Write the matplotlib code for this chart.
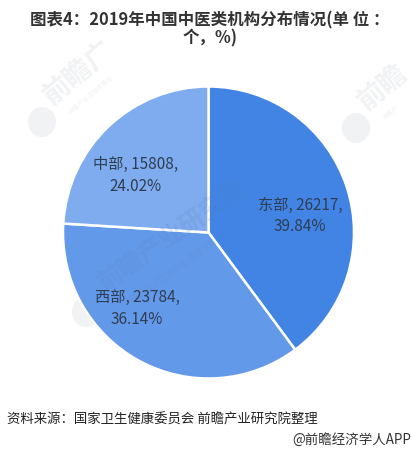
import matplotlib
matplotlib.use("Agg")
import matplotlib.pyplot as plt
from matplotlib.patches import Ellipse

plt.rcParams["font.family"] = ["Noto Sans CJK SC", "DejaVu Sans"]

regions = ["东部", "西部", "中部"]
counts = [26217, 23784, 15808]
shares = ["39.84%", "36.14%", "24.02%"]
colors = ["#4184e4", "#6399e9", "#7eacee"]

W, H = 412, 453
fig = plt.figure(figsize=(W / 100, H / 100), dpi=100)
fig.patch.set_facecolor("white")

# background layer in pixel coords, for watermark
bg = fig.add_axes([0, 0, 1, 1], zorder=0)
bg.set_xlim(0, W)
bg.set_ylim(H, 0)
bg.axis("off")

wm_color = "#f1f2f4"


def watermark(x, y, big, small, size=20):
    bg.text(x, y, big, fontsize=size, color=wm_color, rotation=40, ha="left", va="bottom",
            rotation_mode="anchor", fontweight="bold")
    bg.text(x + 16, y + 6, small, fontsize=4.5, color=wm_color, rotation=40, ha="left", va="bottom",
            rotation_mode="anchor")
    bg.add_patch(Ellipse((x - 14, y + 12), 28, 30, color=wm_color, lw=0))


watermark(56, 110, "前瞻广", "中国产业咨询领导者")
watermark(370, 116, "前瞻", "中国产")
bg.add_patch(Ellipse((86, 312), 28, 30, color=wm_color, lw=0))

# pie
ax = fig.add_axes([63 / W, 1 - 378.5 / H, 291 / W, 292 / H], zorder=1)
wedges, _ = ax.pie(counts, colors=colors, startangle=90, counterclock=False, radius=1,
                   wedgeprops={"edgecolor": "white", "linewidth": 1.8})
ax.set_xlim(-1, 1)
ax.set_ylim(-1, 1)
ax.set_aspect("auto")

# overlay for text
ov = fig.add_axes([0, 0, 1, 1], zorder=2)
ov.set_xlim(0, W)
ov.set_ylim(H, 0)
ov.axis("off")
ov.patch.set_alpha(0)

# watermark across pie
ov.text(108, 296, "前瞻产业研究院", fontsize=18, color="#5a7fb8", alpha=0.16, rotation=35,
        rotation_mode="anchor", ha="left", va="bottom", fontweight="bold")
ov.text(128, 308, "中国产业咨询领导者(股票:839599)", fontsize=6, color="#5a7fb8", alpha=0.16,
        rotation=35, rotation_mode="anchor", ha="left", va="bottom")

label_pos = [(300, 216), (137, 308.5), (136, 175.5)]
for name, n, s, (x, y) in zip(regions, counts, shares, label_pos):
    ov.text(x, y, "{}, {},\n{}".format(name, n, s), fontsize=11, color="#2f3d52",
            ha="center", va="center", linespacing=1.38)

ov.text(210, 29.5, "图表4：2019年中国中医类机构分布情况(单 位 ：\n个，%)", fontsize=11.85, color="#333333",
        fontweight="bold", ha="center", va="center", linespacing=0.98)
ov.text(7, 420, "资料来源：国家卫生健康委员会 前瞻产业研究院整理", fontsize=9.65, color="#222222",
        ha="left", va="center")
ov.text(411, 440, "@前瞻经济学人APP", fontsize=9.7, color="#333333", ha="right", va="center")

fig.savefig("out.png", dpi=100, facecolor="white")
